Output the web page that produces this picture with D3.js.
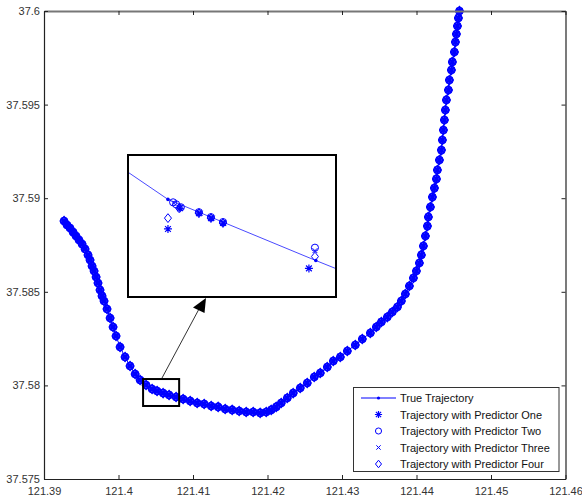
<!DOCTYPE html>
<html><head><meta charset="utf-8">
<script src="https://cdn.jsdelivr.net/npm/d3@7"></script>
<style>
body{margin:0;background:#fff}
svg{display:block}
text{font-family:"Liberation Sans",Arial,sans-serif}
</style>
</head><body>
<svg id="c" width="582" height="497"></svg>
<script>
// ---------------- data ----------------
const xTickValues = [121.39,121.40,121.41,121.42,121.43,121.44,121.45,121.46];
const xTickLabels = ["121.39","121.4","121.41","121.42","121.43","121.44","121.45","121.46"];
const yTickValues = [37.575,37.58,37.585,37.59,37.595,37.6];
const yTickLabels = ["37.575","37.58","37.585","37.59","37.595","37.6"];

// True trajectory (longitude, latitude)
const trueLon = [121.39269,121.39309,121.39349,121.39390,121.39430,121.39470,121.39511,121.39551,121.39591,121.39618,
121.39645,121.39672,121.39699,121.39725,121.39752,121.39779,121.39806,121.39846,121.39887,121.39927,
121.39967,121.40021,121.40088,121.40155,121.40223,121.40290,121.40370,121.40451,121.40518,121.40599,
121.40679,121.40773,121.40868,121.40962,121.41056,121.41150,121.41244,121.41338,121.41432,121.41526,
121.41620,121.41714,121.41808,121.41902,121.41983,121.42050,121.42117,121.42184,121.42265,121.42345,
121.42439,121.42533,121.42627,121.42708,121.42802,121.42883,121.42977,121.43071,121.43178,121.43272,
121.43380,121.43460,121.43528,121.43608,121.43675,121.43743,121.43796,121.43850,121.43904,121.43958,
121.43998,121.44038,121.44065,121.44092,121.44119,121.44146,121.44159,121.44186,121.44213,121.44240,
121.44267,121.44280,121.44307,121.44334,121.44347,121.44361,121.44374,121.44387,121.44401,121.44428,
121.44441,121.44468,121.44481,121.44508,121.44522,121.44535,121.44549,121.44562,121.44576];
const trueLat = [37.58878,37.58857,37.58841,37.58819,37.58798,37.58777,37.58755,37.58729,37.58697,37.58670,
37.58638,37.58611,37.58579,37.58547,37.58510,37.58478,37.58451,37.58408,37.58360,37.58312,
37.58264,37.58205,37.58152,37.58104,37.58061,37.58029,37.58002,37.57981,37.57970,37.57959,
37.57949,37.57938,37.57927,37.57917,37.57906,37.57901,37.57890,37.57885,37.57874,37.57869,
37.57863,37.57858,37.57858,37.57853,37.57858,37.57869,37.57885,37.57906,37.57933,37.57959,
37.57986,37.58013,37.58045,37.58066,37.58098,37.58130,37.58152,37.58184,37.58216,37.58248,
37.58280,37.58312,37.58339,37.58365,37.58392,37.58419,37.58451,37.58488,37.58531,37.58574,
37.58611,37.58654,37.58697,37.58745,37.58798,37.58851,37.58900,37.58953,37.59006,37.59054,
37.59103,37.59151,37.59204,37.59257,37.59311,37.59364,37.59418,37.59471,37.59525,37.59578,
37.59631,37.59685,37.59728,37.59781,37.59834,37.59877,37.59920,37.59963,37.60000];

// Zoomed inset data
const insetTrueLon = [121.40288,121.40423,121.40767,121.40847];
const insetTrueLat = [37.58029,37.57989,37.57927,37.57913];
const p1Lon = [121.40423,121.40451,121.40495,121.40523,121.40551,121.40751];
const p1Lat = [37.57959,37.57980,37.57975,37.57970,37.57965,37.57919];
const p2Lon = [121.40435,121.40442,121.40453,121.40495,121.40523,121.40551,121.40765];
const p2Lat = [37.57986,37.57984,37.57981,37.57976,37.57971,37.57966,37.57940];
const p3Lon = [121.40437,121.40451,121.40498,121.40526,121.40553,121.40765];
const p3Lat = [37.57985,37.57981,37.57975,37.57970,37.57965,37.57937];
const p4Lon = [121.40423,121.40449,121.40495,121.40523,121.40551,121.40765];
const p4Lat = [37.57970,37.57980,37.57975,37.57970,37.57965,37.57931];
const insetLonDomain = [121.40330,121.40814];
const insetLatDomain = [37.57890,37.58034];

const legendLabels = ["True Trajectory","Trajectory with Predictor One","Trajectory with Predictor Two",
  "Trajectory with Predictor Three","Trajectory with Predictor Four"];

// ---------------- drawing ----------------
const BLUE = "#0000ff";
const svg = d3.select("#c");
const x = d3.scaleLinear().domain([121.39,121.46]).range([44,565.5]);
const y = d3.scaleLinear().domain([37.575,37.6]).range([479,11]);

function marker(g, type, cx, cy, s, sw){
  sw = sw || 1;
  if(type==="dot"){
    g.append("circle").attr("cx",cx).attr("cy",cy).attr("r",s*0.45).attr("fill",BLUE);
  } else if(type==="star"){
    const a=s, d=s*0.72;
    g.append("path").attr("d",`M${cx-a},${cy}L${cx+a},${cy}M${cx},${cy-a}L${cx},${cy+a}M${cx-d},${cy-d}L${cx+d},${cy+d}M${cx-d},${cy+d}L${cx+d},${cy-d}`)
      .attr("stroke",BLUE).attr("stroke-width",1.2*sw).attr("fill","none");
  } else if(type==="circle"){
    g.append("circle").attr("cx",cx).attr("cy",cy).attr("r",s*0.85).attr("fill","none").attr("stroke",BLUE).attr("stroke-width",sw);
  } else if(type==="x"){
    const d=s*0.6;
    g.append("path").attr("d",`M${cx-d},${cy-d}L${cx+d},${cy+d}M${cx-d},${cy+d}L${cx+d},${cy-d}`)
      .attr("stroke",BLUE).attr("stroke-width",sw).attr("fill","none");
  } else if(type==="diamond"){
    const d=s*1.05;
    g.append("path").attr("d",`M${cx},${cy-d}L${cx+d*0.8},${cy}L${cx},${cy+d}L${cx-d*0.8},${cy}Z`)
      .attr("stroke",BLUE).attr("stroke-width",sw).attr("fill","none");
  }
}

// main trajectory
const pts = trueLon.map((v,i)=>[v,trueLat[i]]);
const line = d3.line().x(d=>x(d[0])).y(d=>y(d[1]));
const main = svg.append("g");
main.append("path").datum(pts).attr("d",line).attr("fill","none").attr("stroke",BLUE).attr("stroke-width",1);
const mk = main.append("g");
// predicted positions coincide with the true trajectory at this scale
pts.forEach(p=>{
  const cx=x(p[0]), cy=y(p[1]);
  marker(mk,"star",cx,cy,4.2,1.3);
  marker(mk,"circle",cx,cy,4.3,1.3);
  marker(mk,"x",cx,cy,4.2,1.3);
  marker(mk,"diamond",cx,cy,4.3,1.3);
  marker(mk,"dot",cx,cy,4.2);
});

// axes
function styleAxis(g){
  g.selectAll("path.domain").attr("stroke","#222").attr("stroke-width",1.2);
  g.selectAll(".tick line").attr("stroke","#222");
  g.selectAll(".tick text").attr("fill","#333").style("font-size","11px").style("font-family","'Liberation Sans',Arial,sans-serif");
}
const xb = svg.append("g").attr("transform","translate(0,479)")
  .call(d3.axisBottom(x).tickValues(xTickValues).tickFormat((d,i)=>xTickLabels[i]).tickSizeInner(-4).tickSizeOuter(0).tickPadding(8));
styleAxis(xb);
const xt = svg.append("g").attr("transform","translate(0,11)")
  .call(d3.axisTop(x).tickValues(xTickValues).tickFormat("").tickSizeInner(-4).tickSizeOuter(0));
styleAxis(xt); xt.select("path.domain").attr("stroke","#777").attr("stroke-width",2);
const yl = svg.append("g").attr("transform","translate(44,0)")
  .call(d3.axisLeft(y).tickValues(yTickValues).tickFormat((d,i)=>yTickLabels[i]).tickSizeInner(-4).tickSizeOuter(0).tickPadding(4));
styleAxis(yl);
const yr = svg.append("g").attr("transform","translate(565.5,0)")
  .call(d3.axisRight(y).tickValues(yTickValues).tickFormat("").tickSizeInner(-4).tickSizeOuter(0));
styleAxis(yr);

// small zoom box
svg.append("rect").attr("x",x(insetLonDomain[0])).attr("y",y(insetLatDomain[1]))
  .attr("width",x(insetLonDomain[1])-x(insetLonDomain[0])).attr("height",y(insetLatDomain[0])-y(insetLatDomain[1]))
  .attr("fill","none").attr("stroke","#000").attr("stroke-width",2);

// arrow
svg.append("line").attr("x1",162).attr("y1",378).attr("x2",199).attr("y2",309).attr("stroke","#333").attr("stroke-width",1);
svg.append("path").attr("d","M206,298L193,307.5L204.5,313Z").attr("fill","#000");

// inset
const ix = d3.scaleLinear().domain(insetLonDomain).range([128,336]);
const iy = d3.scaleLinear().domain(insetLatDomain).range([297,155]);
svg.append("defs").append("clipPath").attr("id","ic").append("rect").attr("x",128).attr("y",155).attr("width",208).attr("height",142);
svg.append("rect").attr("x",128).attr("y",155).attr("width",208).attr("height",142).attr("fill","#fff");
const ig = svg.append("g").attr("clip-path","url(#ic)");
const ipts = insetTrueLon.map((v,i)=>[v,insetTrueLat[i]]);
ig.append("path").datum(ipts).attr("d",d3.line().x(d=>ix(d[0])).y(d=>iy(d[1])))
  .attr("fill","none").attr("stroke","#4a4aff").attr("stroke-width",1);
ipts.forEach(p=>marker(ig,"dot",ix(p[0]),iy(p[1]),4));
p1Lon.forEach((v,i)=>marker(ig,"star",ix(v),iy(p1Lat[i]),4));
p2Lon.forEach((v,i)=>marker(ig,"circle",ix(v),iy(p2Lat[i]),4.2));
p3Lon.forEach((v,i)=>marker(ig,"x",ix(v),iy(p3Lat[i]),4));
p4Lon.forEach((v,i)=>marker(ig,"diamond",ix(v),iy(p4Lat[i]),4.2));
svg.append("rect").attr("x",128).attr("y",155).attr("width",208).attr("height",142)
  .attr("fill","none").attr("stroke","#000").attr("stroke-width",2);

// legend
const lg = svg.append("g");
lg.append("rect").attr("x",353.5).attr("y",387.5).attr("width",205.5).attr("height",84)
  .attr("fill","#fff").attr("stroke","#333").attr("stroke-width",1);
const types = ["line","star","circle","x","diamond"];
legendLabels.forEach((lab,i)=>{
  const ry = 398 + i*16.5;
  if(types[i]==="line"){
    lg.append("line").attr("x1",361).attr("x2",396).attr("y1",ry).attr("y2",ry).attr("stroke",BLUE).attr("stroke-width",1);
    marker(lg,"dot",378.5,ry,3.6);
  } else {
    marker(lg,types[i],378.5,ry,3.6);
  }
  lg.append("text").attr("x",400).attr("y",ry+4).attr("fill","#111").style("font-size","11px").text(lab);
});
</script>
</body></html>
